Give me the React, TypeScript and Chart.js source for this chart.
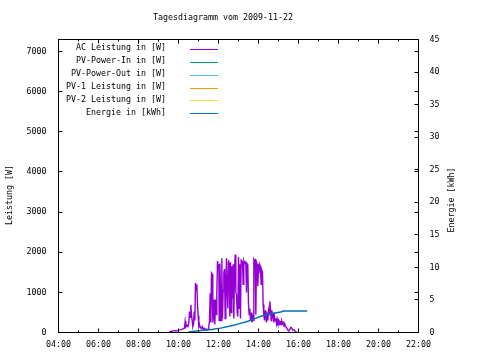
import React, { useEffect, useRef } from "react";
import { Chart, registerables } from "chart.js";

Chart.register(...registerables);

const FONT = "'DejaVu Sans Mono', monospace";
const FS = 8.3;

const titleText = "Tagesdiagramm vom 2009-11-22";
const yTitle = "Leistung [W]";
const y2Title = "Energie [kWh]";

const seriesLabels = [
  "AC Leistung in [W]",
  "PV-Power-In in [W]",
  "PV-Power-Out in [W]",
  "PV-1 Leistung in [W]",
  "PV-2 Leistung in [W]",
  "Energie in [kWh]",
];
const seriesColors = ["#9400D3", "#009E73", "#56B4E9", "#E69F00", "#F0E442", "#0072B2"];

const xTickHours = [4, 6, 8, 10, 12, 14, 16, 18, 20, 22];
const xMinorHours = [5, 7, 9, 11, 13, 15, 17, 19, 21];
const yTicks = [0, 1000, 2000, 3000, 4000, 5000, 6000, 7000];
const y2Ticks = [0, 5, 10, 15, 20, 25, 30, 35, 40, 45];

const acTimes = [
  "09:31", "09:35", "09:40", "09:45", "09:50", "09:55", "10:00", "10:04", "10:08", "10:12",
  "10:15", "10:18", "10:20", "10:22", "10:25", "10:28", "10:31", "10:33", "10:35", "10:37",
  "10:39", "10:41", "10:43", "10:45", "10:47", "10:49", "10:51", "10:53", "10:55", "10:57",
  "10:59", "11:01", "11:03", "11:05", "11:08", "11:11", "11:14", "11:17", "11:20", "11:23",
  "11:26", "11:29", "11:31", "11:33", "11:35", "11:37", "11:39", "11:41", "11:43", "11:45",
  "11:47", "11:49", "11:51", "11:53", "11:55", "11:57", "11:59", "12:01", "12:02", "12:04",
  "12:06", "12:08", "12:10", "12:12", "12:14", "12:16", "12:18", "12:20", "12:22", "12:24",
  "12:26", "12:28", "12:30", "12:32", "12:34", "12:36", "12:38", "12:40", "12:42", "12:44",
  "12:46", "12:48", "12:50", "12:52", "12:54", "12:56", "12:58", "13:00", "13:02", "13:04",
  "13:06", "13:08", "13:10", "13:12", "13:14", "13:16", "13:18", "13:20", "13:22", "13:24",
  "13:26", "13:28", "13:30", "13:32", "13:34", "13:36", "13:38", "13:40", "13:42", "13:44",
  "13:46", "13:48", "13:50", "13:52", "13:54", "13:56", "13:58", "14:00", "14:02", "14:04",
  "14:06", "14:08", "14:10", "14:12", "14:14", "14:16", "14:18", "14:20", "14:22", "14:24",
  "14:26", "14:28", "14:30", "14:32", "14:34", "14:36", "14:38", "14:40", "14:42", "14:44",
  "14:46", "14:48", "14:50", "14:52", "14:54", "14:56", "14:58", "15:00", "15:02", "15:04",
  "15:06", "15:08", "15:10", "15:12", "15:14", "15:16", "15:18", "15:20", "15:24", "15:28",
  "15:31", "15:34", "15:37", "15:40", "15:43", "15:46", "15:50", "15:54", "15:56",
];
const acPower = [
  10, 20, 30, 40, 45, 40, 60, 65, 70, 85,
  100, 110, 280, 140, 180, 150, 230, 520, 380, 690,
  450, 300, 150, 200, 520, 300, 1230, 1050, 1200, 700,
  420, 150, 200, 130, 100, 150, 80, 110, 70, 90,
  60, 80, 150, 300, 980, 250, 1480, 1450, 250, 400,
  820, 200, 820, 450, 1000, 1780, 1650, 1700, 300, 1720,
  1100, 300, 1850, 350, 1050, 1480, 1580, 350, 1250, 1850,
  1000, 600, 1800, 1700, 400, 1750, 500, 1650, 850, 1700,
  350, 1550, 1940, 1000, 950, 500, 400, 1880, 600, 1700,
  350, 1800, 1780, 1750, 1200, 1780, 1720, 1750, 1700, 1000,
  1700, 1650, 700, 450, 600, 300, 500, 250, 450, 300,
  1820, 1780, 1800, 450, 1750, 1700, 1150, 1650, 1700, 1550,
  1600, 1200, 1550, 1500, 700, 450, 300, 550, 400, 250,
  500, 300, 550, 450, 780, 600, 300, 550, 350, 500,
  250, 400, 300, 350, 220, 330, 250, 300, 200, 280,
  270, 200, 280, 220, 250, 200, 230, 180, 120, 60,
  40, 80, 130, 110, 60, 70, 25, 10, 0,
];

const energyTimes = [
  "10:30", "10:32", "11:06", "11:40", "12:06", "12:36", "13:06", "13:26",
  "13:46", "14:06", "14:26", "14:46", "15:06", "15:16", "16:26",
];
const energyKWh = [0.0, 0.1, 0.3, 0.45, 0.67, 1.0, 1.4, 1.68, 2.05, 2.45, 2.8, 2.97, 3.15, 3.3, 3.3];

const toHours = (s: string) => {
  const [h, m] = s.split(":").map(Number);
  return h + m / 60;
};
const fmtHour = (v: number) => `${String(Math.round(v)).padStart(2, "0")}:00`;

const gnuplotFrame = {
  id: "gnuplotFrame",
  afterDraw(chart: any) {
    const ctx = chart.ctx as CanvasRenderingContext2D;
    const { left, right, top, bottom } = chart.chartArea;
    const xs = chart.scales.x;
    const ys = chart.scales.y;
    const y2s = chart.scales.y2;
    const snap = (v: number) => Math.floor(v) + 0.5;
    ctx.save();
    ctx.strokeStyle = "#000";
    ctx.lineWidth = 1;
    ctx.strokeRect(snap(left), snap(top), Math.round(right - left), Math.round(bottom - top));
    ctx.beginPath();
    const L = snap(left), R = snap(right), T = snap(top), B = snap(bottom);
    for (const h of xTickHours) {
      const px = snap(xs.getPixelForValue(h));
      ctx.moveTo(px, B); ctx.lineTo(px, B - 4);
      ctx.moveTo(px, T); ctx.lineTo(px, T + 4);
    }
    for (const h of xMinorHours) {
      const px = snap(xs.getPixelForValue(h));
      ctx.moveTo(px, B); ctx.lineTo(px, B - 2);
      ctx.moveTo(px, T); ctx.lineTo(px, T + 2);
    }
    for (const v of yTicks) {
      const py = snap(ys.getPixelForValue(v));
      ctx.moveTo(L, py); ctx.lineTo(L + 4, py);
      ctx.moveTo(R, py); ctx.lineTo(R - 4, py);
    }
    for (const v of y2Ticks) {
      const py = snap(y2s.getPixelForValue(v));
      ctx.moveTo(R, py); ctx.lineTo(R - 4, py);
    }
    ctx.stroke();

    ctx.fillStyle = "#000";
    ctx.font = `${FS}px ${FONT}`;
    ctx.textBaseline = "middle";
    ctx.textAlign = "center";
    ctx.fillText(titleText, 223, 18);

    // legend
    for (let i = 0; i < seriesLabels.length; i++) {
      const ty = 48.3 + 12.9 * i;
      ctx.textAlign = "right";
      ctx.fillStyle = "#000";
      ctx.fillText(seriesLabels[i], 166, ty);
      const ly = snap(ty + 1);
      ctx.beginPath();
      ctx.strokeStyle = seriesColors[i];
      ctx.lineWidth = 1;
      ctx.moveTo(190, ly);
      ctx.lineTo(218, ly);
      ctx.stroke();
    }

    // axis titles
    ctx.fillStyle = "#000";
    ctx.textAlign = "center";
    ctx.save();
    ctx.translate(10, 195);
    ctx.rotate(-Math.PI / 2);
    ctx.fillText(yTitle, 0, 0);
    ctx.restore();
    ctx.save();
    ctx.translate(452, 200);
    ctx.rotate(-Math.PI / 2);
    ctx.fillText(y2Title, 0, 0);
    ctx.restore();
    ctx.restore();
  },
};

export default function App() {
  const ref = useRef<HTMLCanvasElement | null>(null);
  useEffect(() => {
    if (!ref.current) return;
    const tickFont = { family: FONT, size: FS };
    const datasets: any[] = [
      {
        label: seriesLabels[0],
        data: acTimes.map((t, i) => ({ x: toHours(t), y: acPower[i] })),
        borderColor: seriesColors[0],
        borderWidth: 1.4,
        pointRadius: 0,
        yAxisID: "y",
        order: 2,
      },
      ...[1, 2, 3, 4].map((i) => ({
        label: seriesLabels[i],
        data: [],
        borderColor: seriesColors[i],
        borderWidth: 1,
        pointRadius: 0,
        yAxisID: "y",
        order: 3,
      })),
      {
        label: seriesLabels[5],
        data: energyTimes.map((t, i) => ({ x: toHours(t), y: energyKWh[i] })),
        borderColor: seriesColors[5],
        borderWidth: 1.5,
        pointRadius: 0,
        yAxisID: "y2",
        order: 1,
      },
    ];
    const chart = new Chart(ref.current, {
      type: "line",
      data: { datasets },
      options: {
        animation: false,
        responsive: false,
        devicePixelRatio: 1,
        layout: { padding: { top: 39.5, left: 0, right: 0, bottom: 0 } },
        plugins: { legend: { display: false }, title: { display: false }, tooltip: { enabled: false } },
        scales: {
          x: {
            type: "linear",
            min: 4,
            max: 22,
            afterBuildTicks: (s: any) => { s.ticks = xTickHours.map((v) => ({ value: v })); },
            afterFit: (s: any) => { s.height = 27.5; },
            ticks: { callback: (v: any) => fmtHour(Number(v)), autoSkip: false, maxRotation: 0, padding: 7, font: tickFont, color: "#000" },
            grid: { display: false, drawTicks: false },
            border: { display: false },
          },
          y: {
            type: "linear",
            position: "left",
            min: 0,
            max: 7300,
            afterBuildTicks: (s: any) => { s.ticks = yTicks.map((v) => ({ value: v })); },
            afterFit: (s: any) => { s.width = 58.5; },
            ticks: { callback: (v: any) => String(v), padding: 12, font: tickFont, color: "#000" },
            grid: { display: false, drawTicks: false },
            border: { display: false },
          },
          y2: {
            type: "linear",
            position: "right",
            min: 0,
            max: 45,
            afterBuildTicks: (s: any) => { s.ticks = y2Ticks.map((v) => ({ value: v })); },
            afterFit: (s: any) => { s.width = 61.5; },
            ticks: { callback: (v: any) => String(v), padding: 11, font: tickFont, color: "#000" },
            grid: { display: false, drawTicks: false },
            border: { display: false },
          },
        },
      },
      plugins: [gnuplotFrame],
    } as any);
    return () => chart.destroy();
  }, []);
  return (
    <div style={{ position: "fixed", left: 0, top: 0, width: 480, height: 360, background: "#fff" }}>
      <canvas ref={ref} width={480} height={360} style={{ display: "block" }} />
    </div>
  );
}
